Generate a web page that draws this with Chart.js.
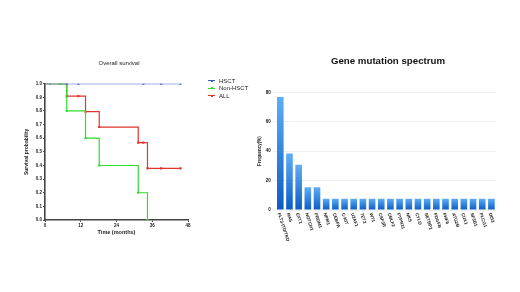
<!DOCTYPE html>
<html>
<head>
<meta charset="utf-8">
<script src="https://cdn.jsdelivr.net/npm/chart.js@4.4.1/dist/chart.umd.min.js"></script>
<style>
  html, body { margin: 0; padding: 0; background: #fff; }
  body { width: 520px; height: 292px; position: relative; overflow: hidden; font-family: "Liberation Sans", Arial, sans-serif; }
  #survivalWrap { position: absolute; left: 0; top: 0; width: 260px; height: 292px; }
  #mutationWrap { position: absolute; left: 256px; top: 0; width: 264px; height: 292px; }
  #survivalLegend { position: absolute; left: 208px; top: 77px; font-size: 6px; color: #222; }
  #survivalLegend .item { height: 7.5px; display: flex; align-items: center; white-space: nowrap; }
  #survivalLegend .mark { width: 7px; height: 1.2px; margin-right: 4px; position: relative; }
  #survivalLegend .mark i { position: absolute; left: 2.5px; top: -0.6px; width: 2px; height: 2.4px; }
</style>
</head>
<body>
<div id="survivalWrap"><canvas id="survivalChart"></canvas></div>
<div id="survivalLegend"></div>
<div id="mutationWrap"><canvas id="mutationChart"></canvas></div>
<script>
// survival curves (time in months, survival probability)
const hsctTime = [0, 7.3, 11.2, 33, 39, 45.5];
const hsctSurv = [1, 1, 1, 1, 1, 1];
const nonHsctTime = [0, 1.7, 4.8, 5.6, 7.3, 13.6, 18.2, 31.3, 34.4];
const nonHsctSurv = [1, 1, 1, 1, 0.8, 0.6, 0.4, 0.2, 0];
const allTime = [0, 7.3, 11.2, 13.6, 18.2, 31.3, 33, 34.4, 39, 45.5];
const allSurv = [1, 0.909, 0.909, 0.795, 0.682, 0.568, 0.568, 0.379, 0.379, 0.379];
const timeTicks = [0, 12, 24, 36, 48];

// mutation spectrum
const genes = ['FLT3-ITD/TKD', 'RAS', 'EXT1', 'NOTCH1', 'PRDM1', 'NPM1', 'CEBPA', 'C-KIT', 'U2AF1',
  'TET2', 'WT1', 'CSF3R', 'CBLF2', 'PTPN11', 'NKS', 'CYLD', 'SETBP1', 'PDGFB', 'PHF6', 'ATG2B',
  'CUX1', 'SF3B1', 'PLCG1', 'DIS3'];
const frequency = [76.9, 38.5, 30.8, 15.4, 15.4, 7.7, 7.7, 7.7, 7.7, 7.7, 7.7, 7.7, 7.7, 7.7,
  7.7, 7.7, 7.7, 7.7, 7.7, 7.7, 7.7, 7.7, 7.7, 7.7];
const freqTicks = [0, 20, 40, 60, 80];

Chart.defaults.font.family = '"Liberation Sans", Arial, sans-serif';
Chart.defaults.color = '#222';

const toPoints = (xs, ys) => xs.map((x, i) => ({ x: x, y: ys[i] }));

function kmDataset(label, xs, ys, color, order) {
    return {
        label: label,
        data: toPoints(xs, ys),
        borderColor: color,
        backgroundColor: color,
        borderWidth: 1.2,
        stepped: 'before',
        pointStyle: 'rect',
        pointRadius: (ctx) => ctx.dataIndex === 0 ? 0 : 1.5,
        pointBorderWidth: 0,
        order: order
    };
}

// empty axis that only reserves room on the right side
const spacer = (w) => ({
    position: 'right',
    grid: { display: false },
    ticks: { display: false },
    border: { display: false },
    afterFit: (scale) => { scale.width = w; }
});

const survivalChart = new Chart(document.getElementById('survivalChart'), {
    type: 'line',
    data: {
        datasets: [
            kmDataset('HSCT', hsctTime, hsctSurv, '#3c5ccc', 0),
            kmDataset('Non-HSCT', nonHsctTime, nonHsctSurv, '#2edc2e', 1),
            kmDataset('ALL', allTime, allSurv, '#e0352c', 2)
        ]
    },
    options: {
        responsive: true,
        maintainAspectRatio: false,
        animation: false,
        layout: { padding: { left: 18, right: 40, top: 0, bottom: 54 } },
        scales: {
            x: {
                type: 'linear',
                min: 0,
                max: 48,
                afterBuildTicks: (scale) => { scale.ticks = timeTicks.map(v => ({ value: v })); },
                afterFit: (scale) => { scale.height = 18; },
                grid: { drawOnChartArea: false, tickLength: 2, color: '#444' },
                border: { color: '#444', width: 1.6 },
                ticks: { font: { size: 4.5, weight: 'bold' }, padding: 1, color: '#222' },
                title: { display: true, text: 'Time (months)', font: { size: 5.5, weight: 'bold' }, padding: { top: 0, bottom: 2 } }
            },
            y: {
                min: 0,
                max: 1,
                afterFit: (scale) => { scale.width = 27; },
                grid: { drawOnChartArea: false, tickLength: 2, color: '#444' },
                border: { color: '#444', width: 1.6 },
                ticks: { stepSize: 0.1, font: { size: 4.5, weight: 'bold' }, padding: 1, color: '#222',
                    callback: (v) => v.toFixed(1) },
                title: { display: true, text: 'Survival probability', font: { size: 5, weight: 'bold' }, padding: { top: 6, bottom: 0 } }
            },
            gap: spacer(32)
        },
        plugins: {
            legend: { display: false },
            tooltip: { enabled: false },
            title: { display: true, text: 'Overall survival', font: { size: 6, weight: 'normal' }, color: '#222',
                padding: { top: 60, bottom: 16.5 } }
        }
    }
});

// legend as html, built from the datasets
document.getElementById('survivalLegend').innerHTML = survivalChart.data.datasets.map(ds =>
    '<div class="item"><span class="mark" style="background:' + ds.borderColor + '"><i style="background:' +
    ds.borderColor + '"></i></span>' + ds.label + '</div>').join('');

// bar gradient per bar: light top, dark bottom
function barGradient(ctx) {
    const chart = ctx.chart;
    const y = chart.scales.y;
    if (!chart.chartArea || !y) return '#2f82e0';
    const top = y.getPixelForValue(ctx.raw);
    const g = chart.ctx.createLinearGradient(0, top, 0, y.getPixelForValue(0));
    g.addColorStop(0, '#5eaef7');
    g.addColorStop(1, '#0b5bc3');
    return g;
}

const slantedLabels = {
    id: 'slantedLabels',
    afterDraw(chart) {
        const x = chart.scales.x;
        const c = chart.ctx;
        c.save();
        c.font = 'bold 4.5px "Liberation Sans", Arial, sans-serif';
        c.fillStyle = '#222';
        c.textAlign = 'left';
        c.textBaseline = 'middle';
        genes.forEach((g, i) => {
            c.save();
            c.translate(x.getPixelForValue(i) - 1.5, x.top + 3);
            c.rotate(72 * Math.PI / 180);
            c.fillText(g, 0, 0);
            c.restore();
        });
        c.restore();
    }
};

new Chart(document.getElementById('mutationChart'), {
    type: 'bar',
    data: {
        labels: genes,
        datasets: [{
            label: 'Frequency(%)',
            data: frequency,
            backgroundColor: barGradient,
            borderWidth: 0,
            barPercentage: 0.72,
            categoryPercentage: 1
        }]
    },
    options: {
        responsive: true,
        maintainAspectRatio: false,
        animation: false,
        layout: { padding: { left: 0, right: 0, top: 0, bottom: 40 } },
        scales: {
            x: {
                afterFit: (scale) => { scale.height = 42; },
                grid: { display: false },
                border: { display: false },
                ticks: { display: false }
            },
            y: {
                min: 0,
                max: 80,
                afterBuildTicks: (scale) => { scale.ticks = freqTicks.map(v => ({ value: v })); },
                afterFit: (scale) => { scale.width = 19.7; },
                grid: { color: '#ececec', tickLength: 3, lineWidth: 0.8 },
                border: { display: false },
                ticks: { font: { size: 4.5, weight: 'bold' }, padding: 2, color: '#111' },
                title: { display: true, text: 'Frequency(%)', font: { size: 4.5, weight: 'bold' }, padding: { top: 1, bottom: 0 } }
            },
            gap: spacer(24)
        },
        plugins: {
            legend: { display: false },
            tooltip: { enabled: false },
            title: { display: true, text: 'Gene mutation spectrum', font: { size: 9.7, weight: 'bold' }, color: '#111',
                padding: { top: 56, bottom: 24.7 } }
        }
    },
    plugins: [slantedLabels]
});
</script>
</body>
</html>
